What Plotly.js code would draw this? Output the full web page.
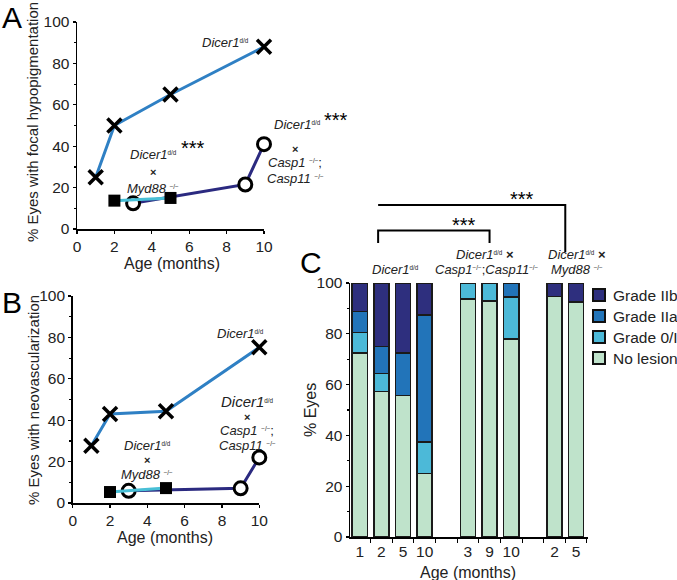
<!DOCTYPE html>
<html>
<head>
<meta charset="utf-8">
<script src="https://cdn.plot.ly/plotly-3.0.1.min.js"></script>
<style>
  html, body { margin: 0; padding: 0; background: #fff; overflow: hidden; }
  #fig { width: 677px; height: 580px; display: block; }
</style>
</head>
<body>
<div id="fig"></div>
<script>
// ages (months) for the three genotypes, panels A and B
const dicerAges = [1, 2, 5, 10];
const mydAges = [2, 5];
const caspAges = [3, 9, 10];

// A: % eyes with focal hypopigmentation
const dicerHypo = [25, 50, 65, 88];
const mydHypo = [13.7, 15];
const caspHypo = [12.4, 21.5, 41];

// B: % eyes with neovascularization
const dicerNeo = [27.7, 43, 44.3, 75.2];
const mydNeo = [5.3, 7.2];
const caspNeo = [5.9, 7.1, 22];

// C: lesion grade distribution
const cGroup = [0, 0, 0, 0, 1, 1, 1, 2, 2];
const cAge = ['1', '2', '5', '10', '3', '9', '10', '2', '5'];
const noLesion = [72.4, 57.2, 55.7, 25, 93.8, 93, 77.9, 94.7, 92.5];
const grade0I = [8.1, 7.1, 0, 12.5, 6.2, 7, 16.6, 0, 0];
const gradeIIa = [8.3, 10.7, 16.7, 50, 0, 0, 5.5, 0, 0];
const gradeIIb = [11.2, 25, 27.6, 12.5, 0, 0, 0, 5.3, 7.5];

const W = 677, H = 580;
const font = 'Liberation Sans, Arial, Helvetica, sans-serif';
const colDicer = '#2f80c4', colMyd = '#48bfd6', colCasp = '#2b2a80';

// one empty slot between genotype groups
const cPos = cGroup.map((g, i) => i + g);

function lineSet(xa, ya, yCasp, yMyd, yDicer) {
  return [
    {x: caspAges, y: yCasp, xaxis: xa, yaxis: ya, mode: 'lines+markers', cliponaxis: false, showlegend: false,
     line: {color: colCasp, width: 3},
     marker: {symbol: 'circle', size: 13, color: '#fff', line: {color: '#000', width: 3}}},
    {x: mydAges, y: yMyd, xaxis: xa, yaxis: ya, mode: 'lines+markers', cliponaxis: false, showlegend: false,
     line: {color: colMyd, width: 3},
     marker: {symbol: 'square', size: 12, color: '#000'}},
    {x: dicerAges, y: yDicer, xaxis: xa, yaxis: ya, mode: 'lines+markers', cliponaxis: false, showlegend: false,
     line: {color: colDicer, width: 3},
     marker: {symbol: 'x-thin', size: 14, line: {color: '#000', width: 3.5}}}
  ];
}

let traces = [].concat(
  lineSet('x', 'y', caspHypo, mydHypo, dicerHypo),
  lineSet('x2', 'y2', caspNeo, mydNeo, dicerNeo)
);

const grades = [
  {name: 'No lesion', y: noLesion, color: '#bfe3cb'},
  {name: 'Grade 0/I', y: grade0I, color: '#4cb9d8'},
  {name: 'Grade IIa', y: gradeIIa, color: '#2274b9'},
  {name: 'Grade IIb', y: gradeIIb, color: '#2e2f7e'}
];
grades.forEach(g => {
  traces.push({
    type: 'bar', x: cPos, y: g.y, name: g.name, xaxis: 'x3', yaxis: 'y3', showlegend: false,
    width: 0.7, marker: {color: g.color, line: {color: '#1a1a1a', width: 1.5}}
  });
});

const px = x => x / W;
const py = y => 1 - y / H;

function lbl(x, y, text, size, extra) {
  return Object.assign({x: px(x), y: py(y), xref: 'paper', yref: 'paper', text: text,
    showarrow: false, xanchor: 'center', yanchor: 'middle',
    font: {family: font, size: size || 13, color: '#222'}}, extra || {});
}
const big = s => ({font: {family: font, size: s, color: '#000'}});
const dicerTxt = '<i>Dicer1</i><span style="font-size:9px"><sup>d/d</sup></span>';
const ko = '<span style="font-size:9px"><sup>−/−</sup></span>';
const times = '<b>×</b>';

const annotations = [
  // panel letters
  lbl(12, 17, 'A', 30, big(30)),
  lbl(12, 302, 'B', 30, big(30)),
  lbl(311, 262, 'C', 30, big(30)),
  // axis titles
  lbl(33, 122, '% Eyes with focal hypopigmentation', 15, {textangle: -90}),
  lbl(172, 263, 'Age (months)', 16),
  lbl(33, 400, '% Eyes with neovascularization', 15, {textangle: -90}),
  lbl(165, 537, 'Age (months)', 16),
  lbl(310, 410, '% Eyes', 16, {textangle: -90}),
  lbl(468, 572, 'Age (months)', 16),
  // panel A labels
  lbl(226, 42, dicerTxt, 13),
  lbl(193, 148, '***', 20, big(20)),
  lbl(153, 155, dicerTxt, 13),
  lbl(153, 172, times, 11),
  lbl(153, 189, '<i>Myd88</i> ' + ko, 13),
  lbl(336, 120, '***', 20, big(20)),
  lbl(297, 125, dicerTxt, 13),
  lbl(295, 149, times, 11),
  lbl(295, 163, '<i>Casp1</i> ' + ko + ';', 13),
  lbl(295, 178, '<i>Casp11</i> ' + ko, 13),
  // panel B labels
  lbl(240, 333, dicerTxt, 13),
  lbl(247, 401, dicerTxt, 15),
  lbl(247, 417, times, 11),
  lbl(247, 430, '<i>Casp1</i> ' + ko + ';', 13),
  lbl(247, 445, '<i>Casp11</i> ' + ko, 13),
  lbl(147, 445, dicerTxt, 13),
  lbl(147, 460, times, 11),
  lbl(147, 474, '<i>Myd88</i> ' + ko, 13),
  // panel C group labels and stars
  lbl(396, 269, dicerTxt, 13),
  lbl(485, 254, dicerTxt + ' ' + times, 13),
  lbl(487, 269, '<i>Casp1</i>' + ko + ';<i>Casp11</i>' + ko, 13),
  lbl(577, 254, dicerTxt + ' ' + times, 13),
  lbl(577, 269, '<i>Myd88</i> ' + ko, 13),
  lbl(464, 225, '***', 20, big(20)),
  lbl(522, 199, '***', 20, big(20))
];

const shapes = [
  {type: 'path', xref: 'x3', yref: 'paper', line: {color: '#000', width: 2},
   path: `M0.85,${py(243)} L0.85,${py(230.5)} L6,${py(230.5)} L6,${py(243)}`},
  {type: 'path', xref: 'x3', yref: 'paper', line: {color: '#000', width: 2},
   path: `M0.85,${py(205)} L9.5,${py(205)} L9.5,${py(252)}`}
];

// legend for panel C, top entry is the last grade
grades.slice().reverse().forEach((g, i) => {
  const yc = 295 + i * 21;
  shapes.push({type: 'rect', xref: 'paper', yref: 'paper',
    x0: px(593), x1: px(605), y0: py(yc + 6), y1: py(yc - 6),
    fillcolor: g.color, line: {color: '#111', width: 2}});
  annotations.push(lbl(611, yc, g.name, 15.5, {xanchor: 'left'}));
});

const axBase = {
  showline: true, linecolor: '#000', linewidth: 1.5, showgrid: false, zeroline: false,
  ticks: 'outside', ticklen: 3, tickwidth: 1.2, tickcolor: '#000',
  tickfont: {family: font, size: 15.5, color: '#222'}
};

const layout = {
  width: W, height: H,
  margin: {l: 0, r: 0, t: 0, b: 0, autoexpand: false},
  paper_bgcolor: '#fff', plot_bgcolor: '#fff',
  barmode: 'stack',
  showlegend: false,
  font: {family: font, color: '#222'},
  xaxis: Object.assign({}, axBase, {domain: [px(77), px(264)], range: [0, 10], dtick: 2, anchor: 'y'}),
  yaxis: Object.assign({}, axBase, {domain: [py(229), py(22)], range: [0, 100], dtick: 20, anchor: 'x',
    minor: {dtick: 10, ticklen: 2, tickcolor: '#000'}}),
  xaxis2: Object.assign({}, axBase, {domain: [px(72.7), px(259.3)], range: [0, 10], dtick: 2, anchor: 'y2'}),
  yaxis2: Object.assign({}, axBase, {domain: [py(503), py(296)], range: [0, 100], dtick: 20, anchor: 'x2',
    minor: {dtick: 10, ticklen: 2, tickcolor: '#000'}}),
  xaxis3: Object.assign({}, axBase, {domain: [px(350), px(588)], range: [-0.45, 10.55], anchor: 'y3',
    tickmode: 'array', tickvals: cPos, ticktext: cAge, ticks: '',
    minor: {tickmode: 'array', tickvals: [0.5, 1.5, 2.5, 3.5, 4.5, 5.5, 6.5, 7.5, 8.5, 9.5, 10.5],
            ticks: 'outside', ticklen: 4, tickcolor: '#000'}}),
  yaxis3: Object.assign({}, axBase, {domain: [py(537), py(283)], range: [0, 100], dtick: 20, anchor: 'x3',
    minor: {dtick: 10, ticklen: 2, tickcolor: '#000'}}),
  annotations: annotations,
  shapes: shapes
};

Plotly.newPlot('fig', traces, layout, {staticPlot: true});
</script>
</body>
</html>
